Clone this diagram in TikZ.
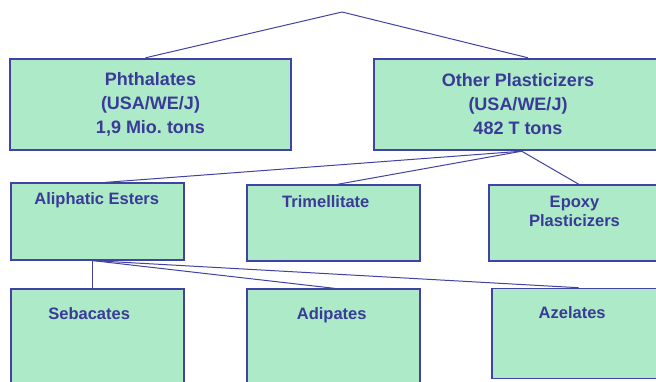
\documentclass[tikz,border=0pt]{standalone}
\usepackage{fontspec}
\setmainfont{Liberation Sans}
\usepackage{xcolor}
\usepackage{tikz}
\usetikzlibrary{positioning}

\definecolor{mint}{RGB}{173,234,200}
\definecolor{ink}{RGB}{58,58,152}
\definecolor{edge}{RGB}{66,66,164}

\tikzset{
  topbox/.style={draw=edge, fill=mint, line width=2.4pt, minimum height=91pt,
    inner sep=0pt, align=center, text=ink,
    font=\bfseries\fontsize{18}{24}\selectfont},
  subbox/.style={draw=edge, fill=mint, line width=1.2pt, minimum width=173pt,
    minimum height=76pt, inner sep=0pt},
  subtext/.style={anchor=base, inner sep=0pt, align=center, text=ink,
    font=\bfseries\fontsize{16.5}{19.5}\selectfont},
  link/.style={draw=edge, line width=1pt}
}

\begin{document}
\begin{tikzpicture}[x=1pt, y=-1pt]
    \useasboundingbox (0,0) rectangle (656,382);
    \clip (0,0) rectangle (656,382);

    \coordinate (root) at (342,12);

    % first row
    \node[topbox, minimum width=281pt] (phth)  at (150.5,104.5) {Phthalates\\(USA/WE/J)\\1,9 Mio.\ tons};
    \node[topbox, minimum width=288pt] (other) at (518,104.5)   {Other Plasticizers\\(USA/WE/J)\\482 T tons};

    % second row
    \node[subbox, minimum height=77pt] (aliph) at (97.5,221.5) {};
    \node[subbox] (trim)  at (333.5,223) {};
    \node[subbox] (epoxy) at (575.5,223) {};

    % third row
    \node[subbox, minimum height=111pt] (sebac) at (97.5,344.5) {};
    \node[subbox, minimum height=111pt] (adip)  at (333.5,344.5) {};
    \node[subbox, minimum height=90pt]  (azel)  at (578.5,333.3) {};

    % labels sit near the top of their boxes (base = last line)
    \node[subtext] (aliphT) at ([shift={(-0.8,22.4)}]aliph.north) {Aliphatic Esters};
    \node[subtext] (trimT)  at ([shift={(-7.7,23.2)}]trim.north)  {Trimellitate};
    \node[subtext] (epoxyT) at ([shift={(-1,42.6)}]epoxy.north)   {Epoxy\\Plasticizers};
    \node[subtext] (sebacT) at ([shift={(-8.3,30.7)}]sebac.north) {Sebacates};
    \node[subtext] (adipT)  at ([shift={(-1.8,30.7)}]adip.north)  {Adipates};
    \node[subtext] (azelT)  at ([shift={(-6.3,30.4)}]azel.north)  {Azelates};

    \draw[link] (root) -- ([xshift=-5pt]phth.north);
    \draw[link] (root) -- ([xshift=10pt]other.north);

    \draw[link] ([xshift=3.7pt]other.south) -- ([xshift=7.5pt]aliph.north);
    \draw[link] ([xshift=3.7pt]other.south) -- ([xshift=3.5pt]trim.north);
    \draw[link] ([xshift=3.7pt]other.south) -- ([xshift=3.5pt]epoxy.north);

    \draw[link] ([xshift=-4.8pt]aliph.south) -- ([xshift=-4.8pt]sebac.north);
    \draw[link] ([xshift=-4.8pt]aliph.south) -- ([xshift=1.5pt]adip.north);
    \draw[link] ([xshift=-4.8pt]aliph.south) -- (azel.north);
\end{tikzpicture}
\end{document}
